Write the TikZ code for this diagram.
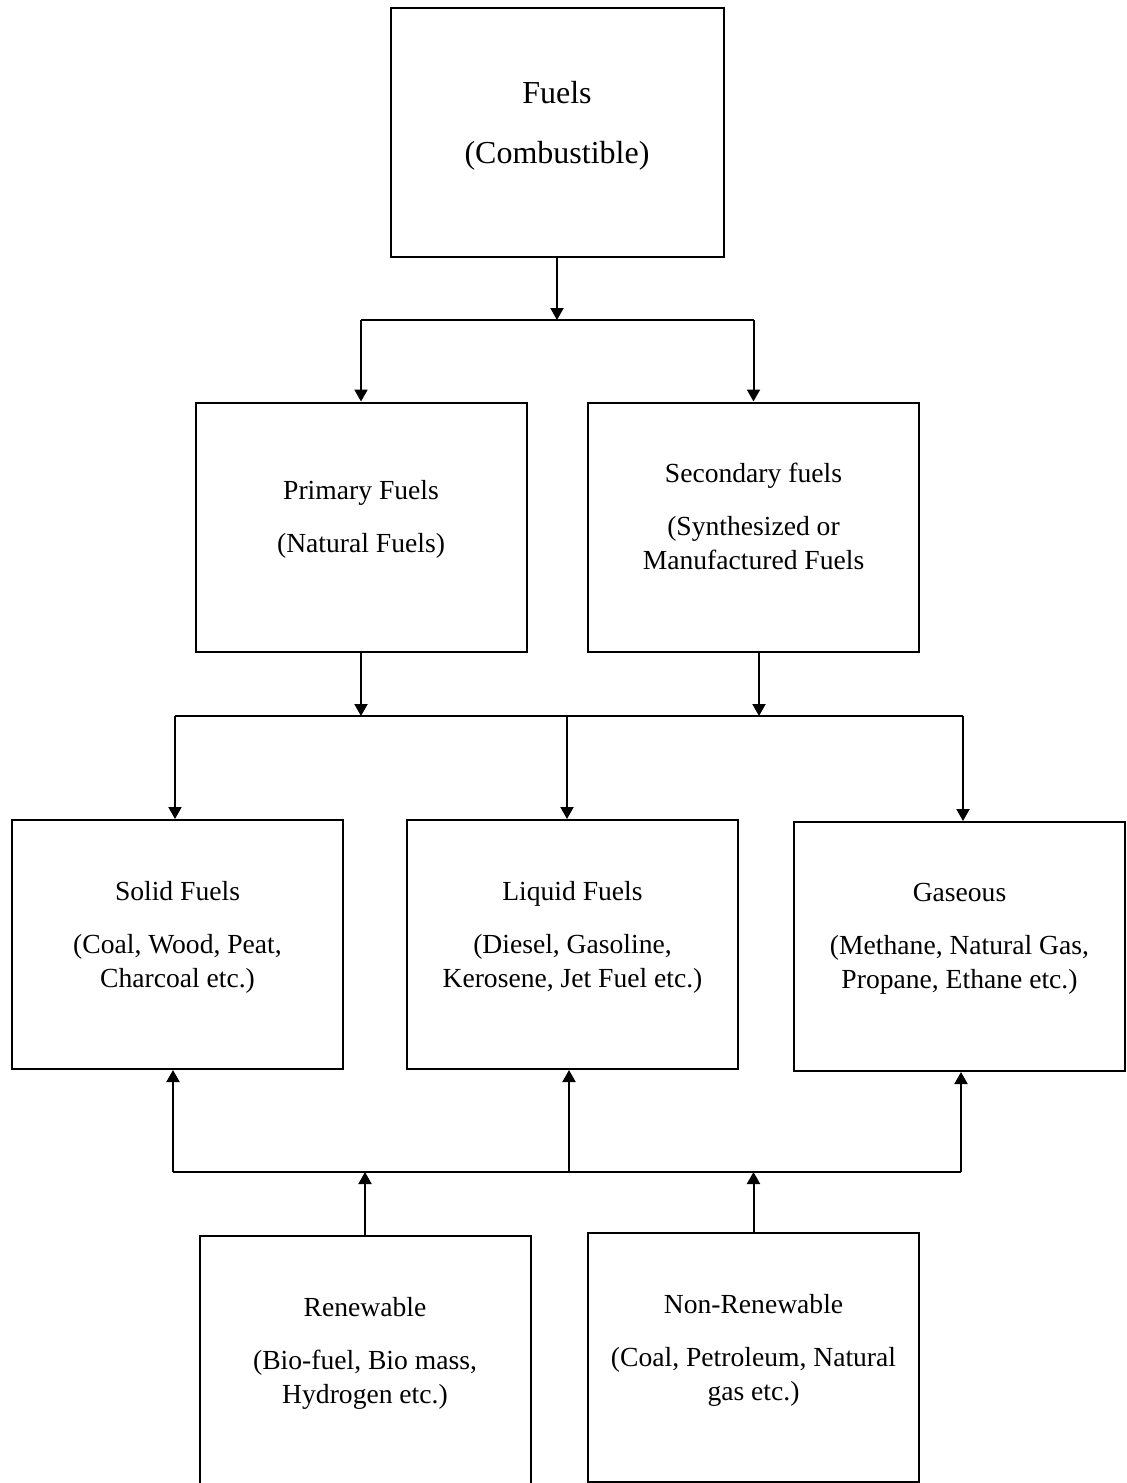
\documentclass[tikz,border=0pt]{standalone}
\usepackage{fontspec}
\setmainfont{Liberation Serif}
\usetikzlibrary{arrows.meta}

\begin{document}
\begin{tikzpicture}[x=0.5pt,y=-0.5pt,
	box/.style={draw,line width=1pt,minimum width=165.5pt,minimum height=124.5pt,inner sep=0pt,text depth=10.5pt,align=center,font=\fontsize{13.8}{17}\selectfont},
	arr/.style={line width=1pt,-{Triangle[length=6pt,width=6.5pt]}},
	bar/.style={line width=1pt}]
		\useasboundingbox (0,0) rectangle (1126,1483);
		%Boxes
		\node[box,minimum width=166.5pt,font=\fontsize{16}{19}\selectfont] (fuels) at (557,132.5) {Fuels\\[11pt](Combustible)};
		\node[box] (prim) at (361,527) {Primary Fuels\\[9.5pt](Natural Fuels)};
		\node[box] (sec) at (753.5,527) {Secondary fuels\\[9.5pt](Synthesized or\\Manufactured Fuels};
		\node[box] (solid) at (177.5,944.5) {Solid Fuels\\[9.5pt](Coal, Wood, Peat,\\Charcoal etc.)};
		\node[box] (liquid) at (572.5,944.5) {Liquid Fuels\\[9.5pt](Diesel, Gasoline,\\Kerosene, Jet Fuel etc.)};
		\node[box] (gas) at (959.5,946.5) {Gaseous\\[9.5pt](Methane, Natural Gas,\\Propane, Ethane etc.)};
		\node[box] (renew) at (365,1360.5) {Renewable\\[9.5pt](Bio-fuel, Bio mass,\\Hydrogen etc.)};
		\node[box] (nonren) at (753.5,1357.5) {Non-Renewable\\[9.5pt](Coal, Petroleum, Natural\\gas etc.)};
		%Top split
		\coordinate (t) at (557,320);
		\draw[arr] (fuels.south) -- (t);
		\draw[bar] (prim.north |- t) -- (sec.north |- t);
		\draw[arr] (prim.north |- t) -- (prim.north);
		\draw[arr] (sec.north |- t) -- (sec.north);
		%Middle bar
		\coordinate (m1) at (175,716);
		\coordinate (m2) at (567,716);
		\coordinate (m3) at (963,716);
		\coordinate (ms) at (759,716);
		\draw[bar] (m1) -- (m3);
		\draw[arr] (prim.south) -- (prim.south |- m1);
		\draw[arr] (ms |- sec.south) -- (ms);
		\foreach \c/\n in {m1/solid,m2/liquid,m3/gas}
			\draw[arr] (\c) -- (\c |- \n.north);
		%Bottom bar
		\coordinate (b1) at (173,1172);
		\coordinate (b2) at (569,1172);
		\coordinate (b3) at (961,1172);
		\draw[bar] (b1) -- (b3);
		\foreach \c/\n in {b1/solid,b2/liquid,b3/gas}
			\draw[arr] (\c) -- (\c |- \n.south);
		\draw[arr] (renew.north) -- (renew.north |- b1);
		\draw[arr] (nonren.north) -- (nonren.north |- b1);
		\end{tikzpicture}
\end{document}
